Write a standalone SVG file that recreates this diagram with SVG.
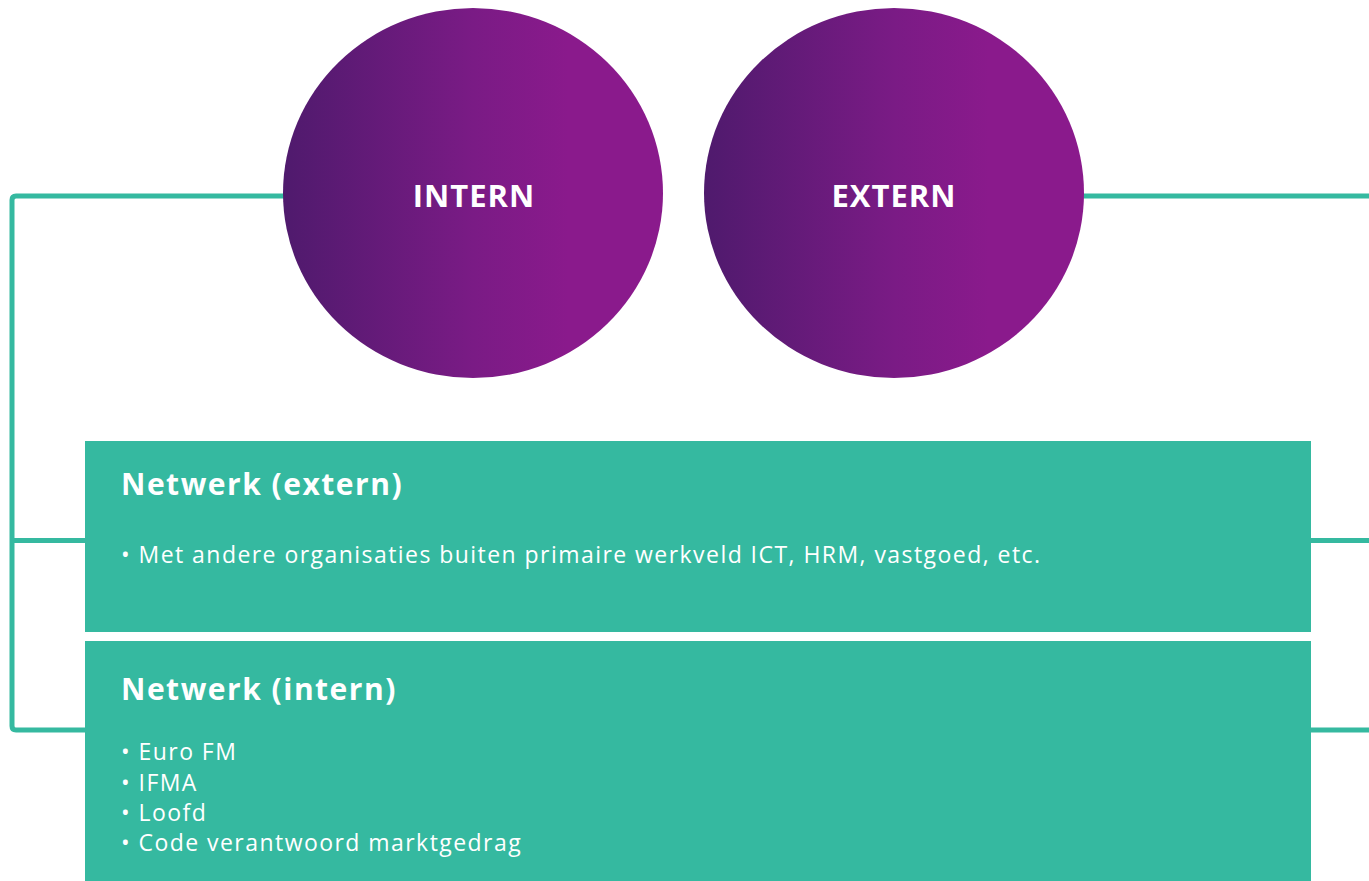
<svg xmlns="http://www.w3.org/2000/svg" width="1369" height="881" viewBox="0 0 1369 881">
<defs>
<linearGradient id="pg" x1="0" y1="0" x2="1" y2="0">
<stop offset="0" stop-color="#4f1a6d"/>
<stop offset="0.5" stop-color="#7a1b85"/>
<stop offset="0.75" stop-color="#8a1a8c"/>
<stop offset="1" stop-color="#8a1a8c"/>
</linearGradient>
<style>
.conn{fill:none;stroke:#35b9a0;stroke-width:5;stroke-linejoin:round}
.box{fill:#35b9a0}
.circ{fill:url(#pg)}
.ctext{font-family:"Open Sans",sans-serif;font-weight:bold;font-size:31px;letter-spacing:1px;fill:#fff;text-anchor:middle}
.title{font-family:"Open Sans",sans-serif;font-weight:bold;font-size:30px;letter-spacing:1.5px;fill:#fff}
.item{font-family:"Open Sans",sans-serif;font-size:23px;letter-spacing:1.45px;fill:#fff}
</style>
</defs>
<rect width="1369" height="881" fill="#fff"/>
<g id="connectors">
<path class="conn" d="M290 196 H16 Q12 196 12 200 V726 Q12 730 16 730 H90"/>
<path class="conn" d="M12 540.5 H90"/>
<path class="conn" d="M1080 196 H1369"/>
<path class="conn" d="M1305 540.5 H1369"/>
<path class="conn" d="M1305 730 H1369"/>
</g>
<g id="intern">
<ellipse class="circ" cx="473" cy="193" rx="190" ry="185"/>
<text class="ctext" x="474" y="207">INTERN</text>
</g>
<g id="extern">
<ellipse class="circ" cx="894" cy="193" rx="190" ry="185"/>
<text class="ctext" x="894" y="207">EXTERN</text>
</g>
<g id="netwerk-extern">
<rect class="box" x="85" y="441" width="1226" height="191"/>
<text class="title" x="121" y="495">Netwerk (extern)</text>
<text class="item" x="121" y="563">• Met andere organisaties buiten primaire werkveld ICT, HRM, vastgoed, etc.</text>
</g>
<g id="netwerk-intern">
<rect class="box" x="85" y="641" width="1226" height="240"/>
<text class="title" x="121" y="700">Netwerk (intern)</text>
<text class="item" x="121" y="760">• Euro FM</text>
<text class="item" x="121" y="791">• IFMA</text>
<text class="item" x="121" y="821">• Loofd</text>
<text class="item" x="121" y="851">• Code verantwoord marktgedrag</text>
</g>
</svg>
